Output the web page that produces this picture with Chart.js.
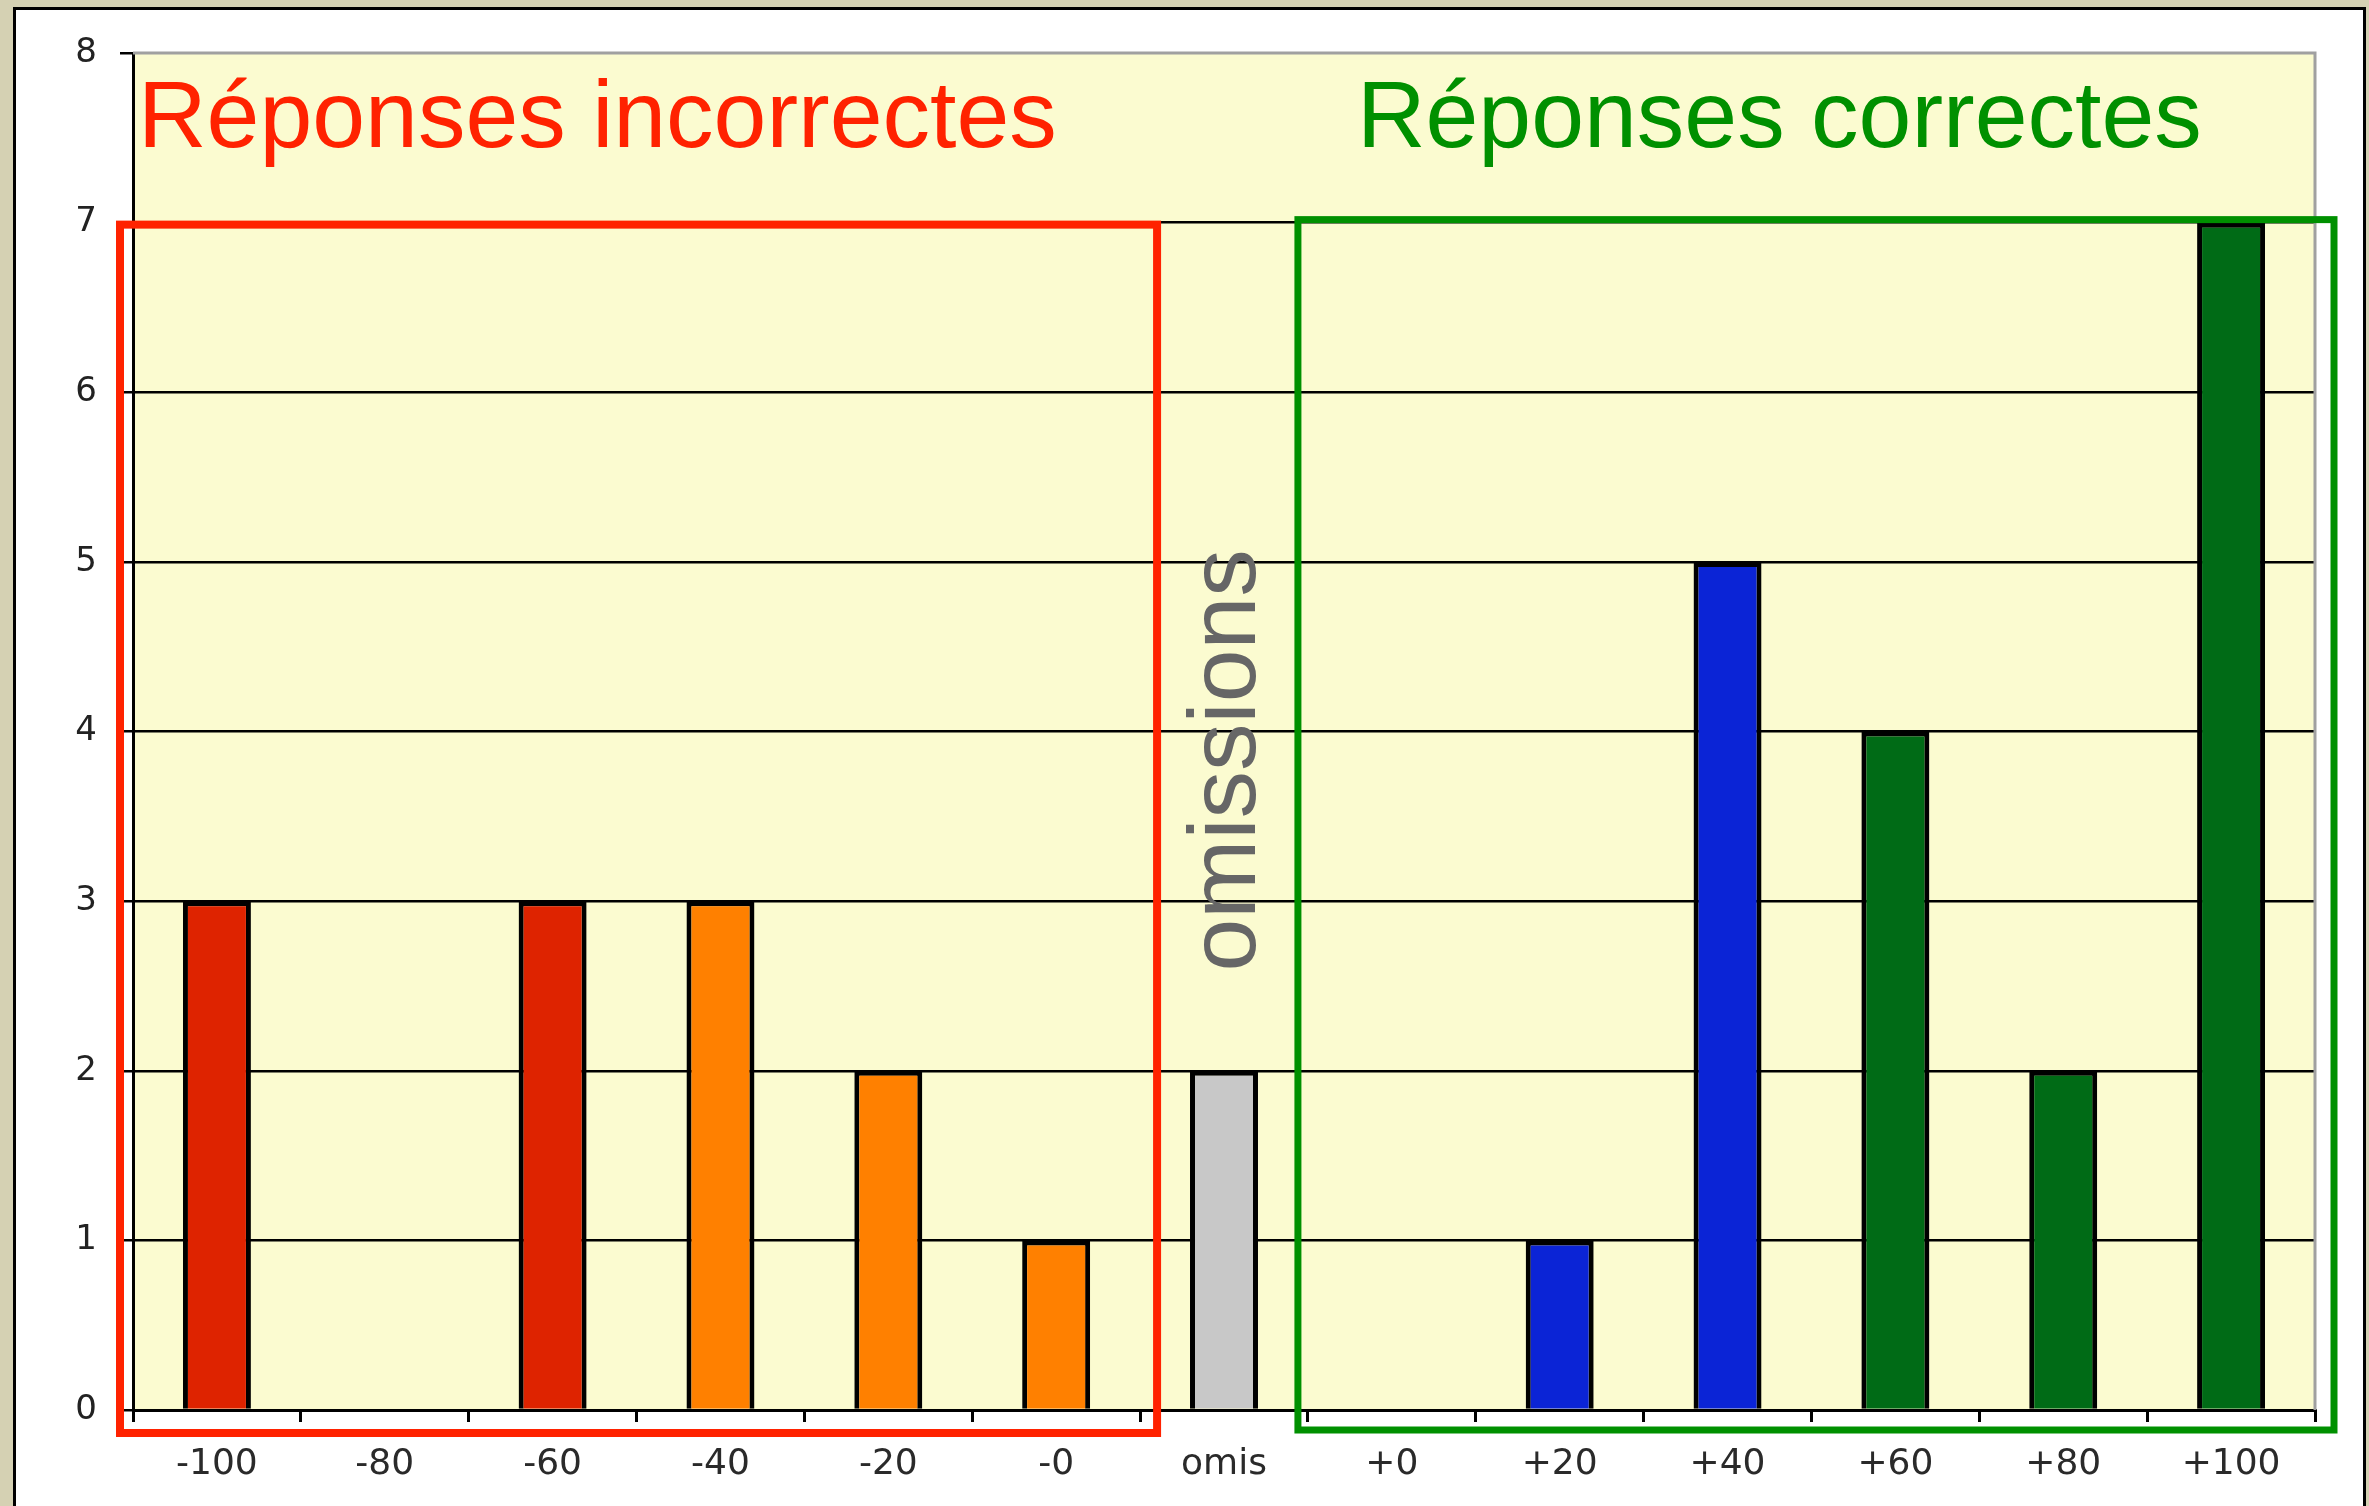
<!DOCTYPE html>
<html>
<head>
<meta charset="utf-8">
<script src="https://cdn.jsdelivr.net/npm/chart.js@4.4.0/dist/chart.umd.min.js"></script>
<style>
  html, body { margin: 0; padding: 0; background: #d5d1b3; }
  #wrap { position: relative; width: 2369px; height: 1506px; }
</style>
</head>
<body>
<div id="wrap"><canvas id="chart"></canvas></div>
<script>
const categories = ['-100', '-80', '-60', '-40', '-20', '-0', 'omis', '+0', '+20', '+40', '+60', '+80', '+100'];
const counts = [3, 0, 3, 3, 2, 1, 2, 0, 1, 5, 4, 2, 7];
const barColors = ['#de2300', '#de2300', '#de2300', '#ff8000', '#ff8000', '#ff8000', '#c8c8c8',
                   '#0b24d6', '#0b24d6', '#0b24d6', '#006b16', '#006b16', '#006b16'];
const yMax = 8;
const labelIncorrect = 'Réponses incorrectes';
const labelCorrect = 'Réponses correctes';
const labelOmit = 'omissions';

// Panel + plot background
const backdrop = {
  id: 'backdrop',
  beforeDraw(chart) {
    const { ctx, chartArea } = chart;
    ctx.save();
    ctx.fillStyle = '#d5d1b3';
    ctx.fillRect(0, 0, chart.width, chart.height);
    ctx.fillStyle = '#ffffff';
    ctx.fillRect(14, 8, 2351, 1520);
    ctx.strokeStyle = '#000';
    ctx.lineWidth = 3;
    ctx.strokeRect(14.5, 8.5, 2350, 1520);
    ctx.fillStyle = '#fbfbd0';
    ctx.fillRect(chartArea.left, chartArea.top, chartArea.right - chartArea.left, chartArea.bottom - chartArea.top);
    ctx.restore();
  },
};

// Frames and big labels
const annotations = {
  id: 'annotations',
  afterDraw(chart) {
    const { ctx, chartArea, scales } = chart;
    const x = scales.x, y = scales.y;
    const catW = (x.right - x.left) / categories.length;
    ctx.save();

    // plot border shadow (top / right)
    ctx.strokeStyle = '#a0a0a0';
    ctx.lineWidth = 3;
    ctx.beginPath();
    ctx.moveTo(chartArea.left, chartArea.top);
    ctx.lineTo(chartArea.right, chartArea.top);
    ctx.lineTo(chartArea.right, chartArea.bottom);
    ctx.stroke();

    const y7 = y.getPixelForValue(7);

    // red frame: wrong answers
    ctx.strokeStyle = '#ff2200';
    ctx.lineWidth = 8;
    const rL = x.left - 13, rR = x.left + 6 * catW + 17;
    ctx.strokeRect(rL, y7 + 2, rR - rL, chartArea.bottom + 23 - (y7 + 2));

    // green frame: right answers
    ctx.strokeStyle = '#009000';
    ctx.lineWidth = 7;
    const gL = x.left + 7 * catW - 10, gR = x.right + 19;
    ctx.strokeRect(gL, y7 - 3, gR - gL, chartArea.bottom + 20 - (y7 - 3));

    // headings
    ctx.font = '95px "Liberation Sans", Arial, sans-serif';
    ctx.textBaseline = 'alphabetic';
    ctx.textAlign = 'left';
    const headY = y.getPixelForValue(yMax) + 94;
    ctx.fillStyle = '#ff2200';
    ctx.fillText(labelIncorrect, chartArea.left + 5, headY);
    ctx.fillStyle = '#009000';
    ctx.fillText(labelCorrect, x.left + 7 * catW + 49, headY);

    // vertical "omissions"
    ctx.fillStyle = '#666666';
    ctx.translate(x.getPixelForValue(6) + 31, y.getPixelForValue(3.83));
    ctx.rotate(-Math.PI / 2);
    ctx.textAlign = 'center';
    ctx.fillText(labelOmit, 0, 0);

    ctx.restore();
  },
};

new Chart(document.getElementById('chart'), {
  type: 'bar',
  data: {
    labels: categories,
    datasets: [{
      data: counts,
      backgroundColor: barColors,
      borderColor: '#000',
      borderWidth: 5,
      barPercentage: 0.405,
      categoryPercentage: 1,
    }],
  },
  options: {
    responsive: true,
    maintainAspectRatio: false,
    animation: false,
    layout: { padding: { left: 0, top: 53, right: 54, bottom: 0 } },
    plugins: { legend: { display: false }, tooltip: { enabled: false } },
    scales: {
      x: {
        afterFit: (s) => { s.height = 96; },
        border: { display: true, color: '#000', width: 3 },
        grid: { display: true, drawOnChartArea: false, drawTicks: true, tickLength: 12, color: '#000', lineWidth: 3, offset: true },
        ticks: { font: { family: 'DejaVu Sans', size: 36 }, color: '#2a2a2a', padding: 21, maxRotation: 0, autoSkip: false },
      },
      y: {
        min: 0,
        max: yMax,
        afterFit: (s) => { s.width = 133; },
        border: { display: true, color: '#000', width: 3 },
        grid: {
          color: (c) => (c.tick && c.tick.value === yMax ? 'rgba(0,0,0,0)' : '#000'),
          tickColor: '#000',
          lineWidth: 2.5,
          tickLength: 13,
        },
        ticks: { stepSize: 1, font: { family: 'DejaVu Sans', size: 34 }, color: '#222', padding: 23 },
      },
    },
  },
  plugins: [backdrop, annotations],
});
</script>
</body>
</html>
